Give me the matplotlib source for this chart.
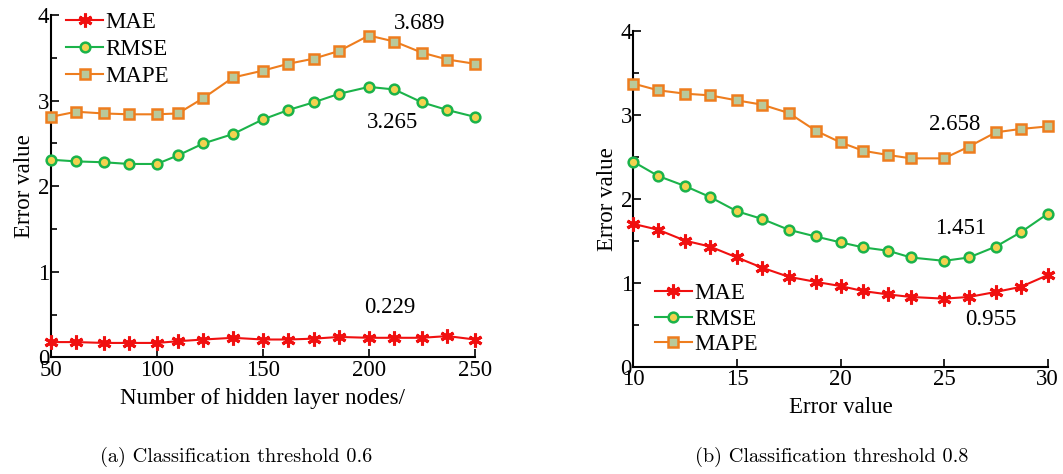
import numpy as np
import matplotlib
matplotlib.use("Agg")
import matplotlib.pyplot as plt
from matplotlib.ticker import MultipleLocator

# (a) threshold 0.6
nodes = [50, 62, 75, 87, 100, 110, 122, 136, 150, 162, 174, 186, 200, 212, 225, 237, 250]
mae_a = [0.18, 0.18, 0.17, 0.17, 0.17, 0.19, 0.21, 0.23, 0.21, 0.21, 0.22, 0.24, 0.23, 0.23, 0.23, 0.25, 0.21]
rmse_a = [2.31, 2.29, 2.28, 2.26, 2.26, 2.36, 2.50, 2.61, 2.78, 2.89, 2.98, 3.08, 3.16, 3.13, 2.98, 2.89, 2.81]
mape_a = [2.81, 2.87, 2.85, 2.84, 2.84, 2.85, 3.03, 3.27, 3.35, 3.43, 3.49, 3.58, 3.76, 3.69, 3.56, 3.48, 3.43]

# (b) threshold 0.8
err = [10, 11.2, 12.5, 13.7, 15.0, 16.2, 17.5, 18.8, 20.0, 21.1, 22.3, 23.4, 25.0, 26.2, 27.5, 28.7, 30.0]
mae_b = [1.70, 1.63, 1.50, 1.43, 1.30, 1.18, 1.07, 1.01, 0.96, 0.90, 0.86, 0.83, 0.81, 0.83, 0.89, 0.95, 1.09]
rmse_b = [2.44, 2.27, 2.15, 2.02, 1.85, 1.76, 1.63, 1.55, 1.48, 1.42, 1.38, 1.30, 1.26, 1.30, 1.43, 1.60, 1.82]
mape_b = [3.37, 3.29, 3.25, 3.23, 3.17, 3.12, 3.02, 2.81, 2.67, 2.57, 2.52, 2.48, 2.48, 2.62, 2.79, 2.83, 2.86]

notes_a = [("3.689", 224, 3.90), ("3.265", 211, 2.75), ("0.229", 210, 0.58)]
notes_b = [("2.658", 25.5, 2.88), ("1.451", 25.8, 1.65), ("0.955", 27.25, 0.56)]

plt.rcParams['font.family'] = ['Liberation Serif', 'DejaVu Serif']
FS = 16.5

red = "#f01010"
green = "#1bb34a"
orange = "#ee7d1e"

fig = plt.figure(figsize=(10.63, 4.74), dpi=100)
ax1 = fig.add_axes([0.0477, 0.2458, 0.3991, 0.7226])
ax2 = fig.add_axes([0.5958, 0.2264, 0.3898, 0.7089])


def draw(ax, x, mae, rmse, mape):
    ax.plot(x, mae, color=red, lw=1.5, marker=(6, 2, 0), ms=10, mew=2.2,
            mec=red, label="MAE", clip_on=False, zorder=3)
    ax.plot(x, rmse, color=green, lw=1.5, marker="o", ms=7, mew=1.8,
            mfc="#f3d24e", mec=green, label="RMSE", clip_on=False, zorder=3)
    ax.plot(x, mape, color=orange, lw=1.5, marker="s", ms=7.5, mew=1.8,
            mfc="#b9c99b", mec=orange, label="MAPE", clip_on=False, zorder=3)
    ax.set_ylim(0, 4)
    ax.yaxis.set_major_locator(MultipleLocator(1))
    ax.yaxis.set_minor_locator(MultipleLocator(0.5))
    for s in ["top", "right"]:
        ax.spines[s].set_visible(False)
    for s in ["left", "bottom"]:
        ax.spines[s].set_linewidth(1.5)
    ax.tick_params(which="both", direction="in", width=1.2, labelsize=FS)
    ax.tick_params(axis="x", which="major", length=6, pad=2)
    ax.tick_params(axis="y", which="major", length=6, pad=1)
    ax.tick_params(which="minor", length=4)
    ax.set_ylabel("Error value", fontsize=FS, labelpad=2)


draw(ax1, nodes, mae_a, rmse_a, mape_a)
ax1.set_xlim(50, 250)
ax1.xaxis.set_major_locator(MultipleLocator(50))
ax1.set_xlabel("Number of hidden layer nodes/", fontsize=FS, labelpad=5)
ax1.legend(loc="upper left", bbox_to_anchor=(0.015, 1.035), frameon=False,
           fontsize=FS, handlelength=1.6, handletextpad=0.1, labelspacing=0.25,
           borderaxespad=0)
for t, x, y in notes_a:
    ax1.text(x, y, t, fontsize=FS, ha="center", va="center")

draw(ax2, err, mae_b, rmse_b, mape_b)
ax2.set_xlim(10, 30)
ax2.xaxis.set_major_locator(MultipleLocator(5))
ax2.set_xlabel("Error value", fontsize=FS, labelpad=5)
ax2.legend(loc="lower left", bbox_to_anchor=(0.025, 0.0), frameon=False,
           fontsize=FS, handlelength=1.6, handletextpad=0.1, labelspacing=0.2,
           borderaxespad=0.1)
for t, x, y in notes_b:
    ax2.text(x, y, t, fontsize=FS, ha="center", va="center")

fig.text(0.222, 0.035, "(a) Classification threshold 0.6", family="cmr10",
         fontsize=14.6, ha="center", va="center")
fig.text(0.782, 0.035, "(b) Classification threshold 0.8", family="cmr10",
         fontsize=14.6, ha="center", va="center")

fig.savefig("out.png", dpi=100)
